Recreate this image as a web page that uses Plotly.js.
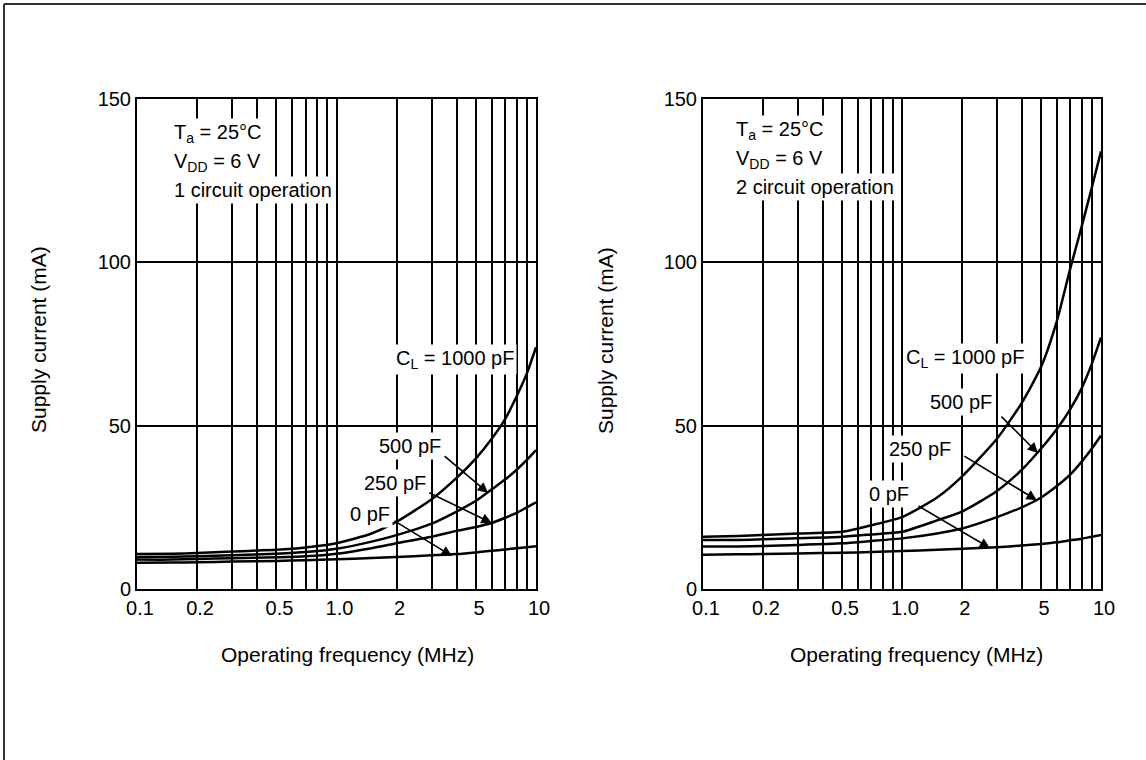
<!DOCTYPE html>
<html>
<head>
<meta charset="utf-8">
<script src="https://cdn.plot.ly/plotly-3.0.1.min.js"></script>
<style>
  html, body { margin: 0; padding: 0; background: #fff; }
  #chart { width: 1146px; height: 760px; }
</style>
</head>
<body>
<div id="chart"></div>
<script>
// Operating frequency sample points (MHz)
const freqMHz = [0.1, 0.15, 0.2, 0.3, 0.5, 0.7, 1, 1.5, 2, 3, 4, 5, 6, 7, 8, 9, 10];

// Supply current (mA), 1 circuit operation
const one_1000pF = [10.7, 10.8, 11.0, 11.5, 12.0, 12.7, 14.0, 17.0, 20.6, 27.5, 34.0, 40.0, 46.0, 52.0, 59.0, 66.0, 74.0];
const one_500pF  = [9.8, 9.9, 10.0, 10.3, 10.8, 11.3, 12.3, 14.5, 16.5, 20.0, 23.7, 27.0, 30.5, 33.5, 36.5, 39.5, 42.5];
const one_250pF  = [9.0, 9.0, 9.2, 9.4, 9.7, 10.0, 10.8, 12.5, 14.0, 16.0, 17.8, 19.0, 20.2, 21.8, 23.3, 25.0, 26.5];
const one_0pF    = [8.0, 8.1, 8.2, 8.4, 8.6, 8.8, 9.1, 9.5, 9.8, 10.3, 10.7, 11.2, 11.7, 12.1, 12.5, 12.8, 13.1];

// Supply current (mA), 2 circuit operation
const two_1000pF = [16.0, 16.2, 16.5, 17.0, 17.5, 19.5, 22.0, 28.0, 34.4, 46.0, 57.0, 68.0, 82.0, 98.0, 111.0, 123.0, 134.0];
const two_500pF  = [15.0, 15.0, 15.2, 15.5, 16.0, 16.7, 17.5, 21.0, 23.7, 30.0, 36.5, 43.0, 49.0, 55.0, 61.5, 69.0, 77.0];
const two_250pF  = [13.0, 13.0, 13.2, 13.5, 14.0, 14.7, 15.5, 17.0, 18.5, 22.0, 25.0, 28.0, 31.5, 35.0, 39.0, 43.0, 47.0];
const two_0pF    = [10.5, 10.6, 10.7, 10.9, 11.1, 11.3, 11.6, 12.0, 12.3, 12.8, 13.3, 13.8, 14.3, 14.9, 15.4, 16.0, 16.5];

// Axis ticks
const xTickVals  = [0.1, 0.2, 0.5, 1, 2, 5, 10];
const xTickText  = ['0.1', '0.2', '0.5', '1.0', '2', '5', '10'];
const xMinorVals = [0.3, 0.4, 0.6, 0.7, 0.8, 0.9, 3, 4, 6, 7, 8, 9];
const yTickVals  = [0, 50, 100, 150];

const FONT = 'Liberation Sans, Arial, Helvetica, sans-serif';

function curve(y, xa, ya) {
  return {
    x: freqMHz, y: y, xaxis: xa, yaxis: ya,
    type: 'scatter', mode: 'lines',
    line: { color: '#000', width: 2.5, shape: 'spline', smoothing: 0.6 },
    hoverinfo: 'skip', showlegend: false
  };
}

const data = [
  curve(one_1000pF, 'x', 'y'), curve(one_500pF, 'x', 'y'),
  curve(one_250pF, 'x', 'y'),  curve(one_0pF, 'x', 'y'),
  curve(two_1000pF, 'x2', 'y2'), curve(two_500pF, 'x2', 'y2'),
  curve(two_250pF, 'x2', 'y2'),  curve(two_0pF, 'x2', 'y2')
];

function xAxis(domain, anchor) {
  return {
    type: 'log', range: [-1, 1], domain: domain, anchor: anchor,
    tickvals: xTickVals, ticktext: xTickText, ticks: '',
    ticklabelshift: 3,
    tickfont: { family: FONT, size: 20, color: '#000' },
    showgrid: true, gridcolor: '#000', gridwidth: 2,
    minor: { tickvals: xMinorVals, showgrid: true, gridcolor: '#000', gridwidth: 2, ticks: '' },
    showline: true, linecolor: '#000', linewidth: 2, mirror: true,
    zeroline: false, fixedrange: true
  };
}
function yAxis(domain, anchor) {
  return {
    range: [0, 150], domain: domain, anchor: anchor,
    tickvals: yTickVals, ticks: '',
    tickfont: { family: FONT, size: 20, color: '#000' },
    showgrid: true, gridcolor: '#000', gridwidth: 2,
    showline: true, linecolor: '#000', linewidth: 2, mirror: true,
    zeroline: false, fixedrange: true
  };
}

const W = 1146, H = 760;
const leftDom  = [137 / W, 536 / W];
const rightDom = [703 / W, 1101 / W];
const yDom     = [(H - 589) / H, (H - 99) / H];

function note(xref, yref, x, y, text, anchor) {
  return {
    xref: xref, yref: yref, x: x, y: y, text: text,
    xanchor: anchor || 'left', yanchor: 'middle', showarrow: false,
    bgcolor: '#fff', borderpad: 2,
    font: { family: FONT, size: 20, color: '#000' }
  };
}
function arrow(xref, yref, f, mA, ax, ay) {
  return {
    xref: xref, yref: yref, x: Math.log10(f), y: mA, text: '',
    showarrow: true, axref: 'pixel', ayref: 'pixel', ax: ax, ay: ay,
    arrowhead: 2, arrowsize: 1.3, arrowwidth: 1.6, arrowcolor: '#000'
  };
}
function paperText(x, y, text, angle) {
  return {
    xref: 'paper', yref: 'paper', x: x / W, y: (H - y) / H, text: text,
    xanchor: 'center', yanchor: 'middle', showarrow: false, textangle: angle || 0,
    font: { family: FONT, size: 21, color: '#000' }
  };
}

const annotations = [
  // Conditions, 1 circuit
  note('x domain', 'y domain', 0.085, 0.929, 'T<sub>a</sub> = 25°C'),
  note('x domain', 'y domain', 0.085, 0.871, 'V<sub>DD</sub> = 6 V'),
  note('x domain', 'y domain', 0.085, 0.814, '1 circuit operation'),
  // Load capacitance labels, 1 circuit
  note('x domain', 'y domain', 0.797, 0.469, 'C<sub>L</sub> = 1000 pF', 'center'),
  note('x domain', 'y domain', 0.685, 0.292, '500 pF', 'center'),
  note('x domain', 'y domain', 0.647, 0.217, '250 pF', 'center'),
  note('x domain', 'y domain', 0.585, 0.153, '0 pF', 'center'),
  arrow('x', 'y', 5.75, 29.4, -45, -38),
  arrow('x', 'y', 6.0, 20.2, -64, -31),
  arrow('x', 'y', 3.79, 10.1, -59, -36),

  // Conditions, 2 circuit
  note('x2 domain', 'y2 domain', 0.075, 0.935, 'T<sub>a</sub> = 25°C'),
  note('x2 domain', 'y2 domain', 0.075, 0.877, 'V<sub>DD</sub> = 6 V'),
  note('x2 domain', 'y2 domain', 0.075, 0.820, '2 circuit operation'),
  // Load capacitance labels, 2 circuit
  note('x2 domain', 'y2 domain', 0.658, 0.471, 'C<sub>L</sub> = 1000 pF', 'center'),
  note('x2 domain', 'y2 domain', 0.647, 0.381, '500 pF', 'center'),
  note('x2 domain', 'y2 domain', 0.546, 0.286, '250 pF', 'center'),
  note('x2 domain', 'y2 domain', 0.467, 0.194, '0 pF', 'center'),
  arrow('x2', 'y2', 4.82, 41.6, -38, -38),
  arrow('x2', 'y2', 4.76, 27.2, -74, -45),
  arrow('x2', 'y2', 2.77, 12.5, -73, -43),

  // Axis titles
  paperText(39, 340, 'Supply current (mA)', -90),
  paperText(347, 654, 'Operating frequency (MHz)'),
  paperText(606, 340, 'Supply current (mA)', -90),
  paperText(916, 654, 'Operating frequency (MHz)')
];

const layout = {
  width: W, height: H, autosize: false,
  margin: { l: 0, r: 0, t: 0, b: 0, pad: 0 },
  paper_bgcolor: '#fff', plot_bgcolor: '#fff',
  showlegend: false,
  xaxis: xAxis(leftDom, 'y'),
  yaxis: yAxis(yDom, 'x'),
  xaxis2: xAxis(rightDom, 'y2'),
  yaxis2: yAxis(yDom, 'x2'),
  annotations: annotations,
  shapes: [
    // outer frame (top and left edges)
    { type: 'line', xref: 'paper', yref: 'paper', x0: 4 / W, x1: 1, y0: (H - 4) / H, y1: (H - 4) / H,
      line: { color: '#333', width: 2 } },
    { type: 'line', xref: 'paper', yref: 'paper', x0: 4 / W, x1: 4 / W, y0: 0, y1: (H - 4) / H,
      line: { color: '#333', width: 2 } }
  ]
};

Plotly.newPlot('chart', data, layout, { staticPlot: true, displayModeBar: false });
</script>
</body>
</html>
